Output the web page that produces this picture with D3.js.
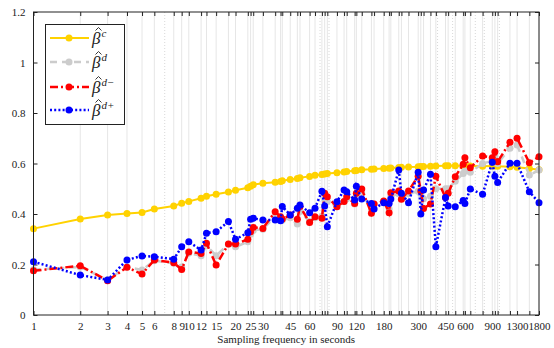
<!DOCTYPE html>
<html><head><meta charset="utf-8">
<script src="https://cdn.jsdelivr.net/npm/d3@7"></script>
<style>body{margin:0;background:#fff}svg{display:block}</style>
</head><body><svg id="c" width="554" height="348"></svg>
<script>
const xs = [1,2,3,4,5,6,8,9,10,12,13,15,18,20,24,25,26,30,36,39,40,45,50,52,60,65,72,75,78,90,100,104,117,120,130,150,156,180,195,200,225,234,260,300,312,325,360,390,450,468,520,585,600,650,780,900,936,975,1170,1300,1560,1800];
const xLabels = [1,2,3,4,5,6,8,9,10,12,15,20,25,30,45,60,90,120,180,300,450,600,900,1300,1800];
const minorGrid = [7,70,80,400,500,700,800,1000];
const yTicks = [0,0.2,0.4,0.6,0.8,1,1.2];
const betaC = [0.342,0.38,0.396,0.402,0.406,0.42,0.432,0.443,0.45,0.462,0.47,0.478,0.487,0.494,0.504,0.51,0.516,0.522,0.526,0.529,0.532,0.537,0.541,0.544,0.549,0.553,0.556,0.558,0.56,0.563,0.566,0.568,0.571,0.572,0.575,0.577,0.578,0.58,0.581,0.582,0.584,0.585,0.586,0.587,0.588,0.588,0.589,0.59,0.591,0.591,0.591,0.59,0.59,0.59,0.589,0.59,0.59,0.589,0.587,0.585,0.58,0.575];
const betaD = [0.18,0.19,0.14,0.19,0.178,0.215,0.205,0.19,0.245,0.235,0.275,0.235,0.28,0.27,0.29,0.32,0.335,0.34,0.39,0.38,0.375,0.385,0.36,0.41,0.37,0.385,0.39,0.46,0.45,0.43,0.45,0.46,0.44,0.47,0.48,0.42,0.44,0.45,0.42,0.47,0.48,0.46,0.48,0.49,0.48,0.46,0.47,0.5,0.5,0.5,0.53,0.56,0.57,0.565,0.6,0.61,0.63,0.6,0.66,0.673,0.554,0.574];
const betaDm = [0.175,0.195,0.136,0.189,0.162,0.218,0.207,0.18,0.25,0.244,0.284,0.198,0.281,0.281,0.30,0.33,0.347,0.343,0.409,0.389,0.38,0.396,0.379,0.43,0.366,0.389,0.383,0.482,0.468,0.429,0.45,0.468,0.442,0.482,0.499,0.403,0.44,0.451,0.405,0.484,0.491,0.458,0.491,0.55,0.491,0.422,0.44,0.55,0.465,0.482,0.548,0.597,0.623,0.583,0.63,0.623,0.647,0.607,0.684,0.70,0.603,0.627];
const betaDp = [0.211,0.158,0.139,0.218,0.234,0.231,0.221,0.27,0.29,0.257,0.324,0.33,0.37,0.30,0.326,0.379,0.383,0.376,0.376,0.373,0.43,0.396,0.423,0.436,0.405,0.423,0.49,0.432,0.35,0.449,0.495,0.488,0.455,0.51,0.459,0.442,0.42,0.445,0.442,0.459,0.574,0.482,0.445,0.565,0.40,0.495,0.557,0.27,0.465,0.432,0.429,0.453,0.442,0.499,0.478,0.605,0.55,0.525,0.601,0.601,0.488,0.445];

const L=33.5, R=539, T=12, B=315;
const svg = d3.select("#c");
const x = d3.scaleLog().domain([1,1800]).range([L,R]);
const y = d3.scaleLinear().domain([0,1.2]).range([B,T]);
const font = "Liberation Serif, DejaVu Serif, serif";

// grid
const g = svg.append("g");
g.selectAll("line.mn").data(minorGrid).enter().append("line")
 .attr("x1",d=>x(d)).attr("x2",d=>x(d)).attr("y1",T).attr("y2",B)
 .attr("stroke","#d8d8d8").attr("stroke-width",1).attr("stroke-dasharray","1,2");
g.selectAll("line.mj").data(xs).enter().append("line")
 .attr("x1",d=>x(d)).attr("x2",d=>x(d)).attr("y1",T).attr("y2",B)
 .attr("stroke","#e6e6e6").attr("stroke-width",1);

// axes
const fmtX = d => xLabels.includes(d) ? String(d) : "";
const axB = svg.append("g").attr("transform",`translate(0,${B})`)
 .call(d3.axisBottom(x).tickValues(xs).tickFormat(fmtX).tickSize(-4).tickPadding(7));
const axT = svg.append("g").attr("transform",`translate(0,${T})`)
 .call(d3.axisTop(x).tickValues(xs).tickFormat("").tickSize(-4));
const axL = svg.append("g").attr("transform",`translate(${L},0)`)
 .call(d3.axisLeft(y).tickValues(yTicks).tickFormat(d=>String(d)).tickSize(-4).tickPadding(8));
const axR = svg.append("g").attr("transform",`translate(${R},0)`)
 .call(d3.axisRight(y).tickValues(yTicks).tickFormat("").tickSize(-4));
[axB,axT,axL,axR].forEach(a=>{
  a.attr("font-family",font);
  a.select(".domain").remove();
  a.selectAll(".tick line").attr("stroke","#222").attr("stroke-width",1);
  a.selectAll("text").style("font-family",font).attr("font-size",11).attr("fill","#222");
});

// series
const series = [
 {v:betaC, c:"#ffd200", dash:null, w:2},
 {v:betaD, c:"#cccccc", dash:"7,5", w:2.5},
 {v:betaDm, c:"#ff0000", dash:"8,3,2,3", w:2.5},
 {v:betaDp, c:"#0000ff", dash:"2,2.2", w:2.5}
];
const line = d3.line().x(d=>x(d[0])).y(d=>y(d[1]));
series.forEach(s=>{
  const pts = xs.map((xv,i)=>[xv,s.v[i]]);
  svg.append("path").datum(pts).attr("d",line).attr("fill","none")
   .attr("stroke",s.c).attr("stroke-width",s.w).attr("stroke-dasharray",s.dash);
  svg.append("g").selectAll("circle").data(pts).enter().append("circle")
   .attr("cx",d=>x(d[0])).attr("cy",d=>y(d[1])).attr("r",3.5).attr("fill",s.c);
});

// frame
svg.append("rect").attr("x",L).attr("y",T).attr("width",R-L).attr("height",B-T)
 .attr("fill","none").attr("stroke","#222").attr("stroke-width",1);

// x label
svg.append("text").attr("x",(L+R)/2).attr("y",343).attr("text-anchor","middle")
 .style("font-family",font).attr("font-size",11).attr("fill","#222").text("Sampling frequency in seconds");

// legend
const leg = svg.append("g");
leg.append("rect").attr("x",45.5).attr("y",24.5).attr("width",79).attr("height",100)
 .attr("fill","#fff").attr("stroke","#222").attr("stroke-width",1);
const sups = ["c","d","d\u2212","d+"];
const rowsY = [38,62,87,110];
series.forEach((s,i)=>{
  const yy = rowsY[i];
  leg.append("line").attr("x1",50).attr("x2",89).attr("y1",yy).attr("y2",yy)
   .attr("stroke",s.c).attr("stroke-width",s.w).attr("stroke-dasharray",s.dash);
  leg.append("circle").attr("cx",69).attr("cy",yy).attr("r",3.5).attr("fill",s.c);
  const t = leg.append("text").attr("x",92).attr("y",yy+6).style("font-family",font)
   .attr("font-size",17).attr("font-style","italic").attr("fill","#222");
  t.append("tspan").text("\u03B2");
  t.append("tspan").attr("dx",1).attr("dy",-7).attr("font-size",11).text(sups[i]);
  // circumflex accent over beta
  leg.append("path").attr("d",`M${95.5},${yy-7.5} L${98.5},${yy-10.5} L${101.5},${yy-7.5}`)
   .attr("fill","none").attr("stroke","#222").attr("stroke-width",0.9);
});
</script></body></html>
